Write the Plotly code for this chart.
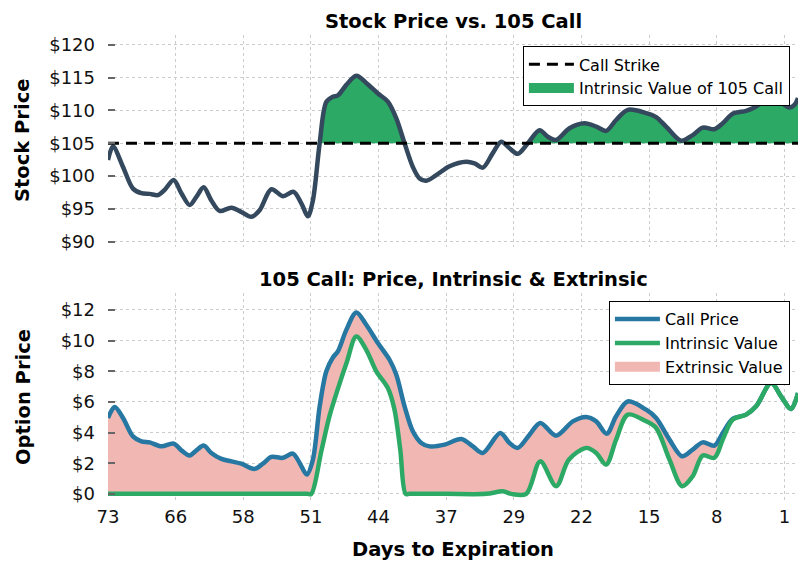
import numpy as np
import plotly.graph_objects as go

STRIKE = 105

stock_days = [73.00, 72.47, 71.40, 70.34, 69.45, 68.56, 67.68, 66.97, 66.01, 65.19,
              64.31, 63.59, 62.82, 62.00, 61.12, 59.87, 58.81, 57.74, 56.86, 55.61,
              54.38, 53.24, 52.42, 51.72, 51.19, 50.47, 49.76, 49.06, 48.53, 47.63,
              46.57, 45.51, 44.27, 43.21, 42.31, 41.43, 40.55, 39.83, 39.12, 38.06,
              36.64, 34.87, 33.98, 33.10, 32.04, 31.14, 30.26, 29.38, 28.31, 27.07,
              26.18, 25.29, 23.88, 22.28, 21.03, 19.97, 18.91, 17.67, 15.71, 14.65,
              13.59, 11.99, 10.76, 9.69, 8.45, 7.56, 6.50, 5.07, 4.19, 3.31,
              2.41, 1.35, 0.47, -0.07, -0.45]
stock_price = [102.45, 104.5, 101.4, 98.1, 97.4, 97.3, 97.1, 97.9, 99.4, 97.4,
               95.6, 96.85, 98.3, 96.3, 94.7, 95.2, 94.55, 93.8, 94.8, 98.0,
               96.95, 97.6, 95.85, 93.9, 96.3, 105.0, 111.3, 112.1, 112.3, 113.9,
               115.3, 114.2, 112.6, 111.35, 108.8, 105.0, 101.4, 99.65, 99.3, 100.15,
               101.5, 102.2, 101.95, 101.3, 103.5, 105.25, 104.25, 103.4, 105.0, 107.0,
               106.0, 105.5, 107.3, 108.05, 107.55, 106.9, 108.55, 110.1, 109.6, 109.0,
               107.55, 105.4, 106.25, 107.4, 107.15, 108.05, 109.5, 109.95, 110.45, 111.35,
               112.3, 111.2, 110.45, 110.85, 111.9]

call_days = [73.00, 72.29, 71.40, 70.34, 69.45, 68.56, 67.32, 66.01, 65.19, 64.31,
             63.59, 62.82, 62.00, 60.93, 59.87, 58.81, 57.39, 56.51, 55.61, 54.38,
             53.32, 52.60, 51.83, 51.19, 50.47, 49.76, 49.06, 48.53, 47.63, 46.57,
             45.51, 44.27, 43.03, 42.31, 41.43, 40.55, 39.65, 38.77, 37.17, 35.40,
             34.16, 33.10, 31.25, 30.26, 29.38, 28.13, 26.99, 25.29, 23.52, 22.10,
             21.03, 19.91, 18.91, 17.67, 15.71, 14.65, 13.23, 11.88, 10.76, 9.69,
             8.45, 7.56, 6.50, 5.07, 4.01, 2.41, 1.35, 0.29, -0.45]
call_price = [4.95, 5.67, 4.95, 3.75, 3.43, 3.36, 3.10, 3.28, 2.84, 2.50,
              2.84, 3.15, 2.67, 2.28, 2.12, 1.97, 1.63, 1.97, 2.41, 2.35,
              2.63, 2.02, 1.26, 2.23, 5.70, 8.0, 8.9, 9.3, 10.7, 11.83,
              11.03, 9.84, 8.75, 7.77, 5.71, 4.08, 3.32, 3.10, 3.21, 3.58,
              3.10, 2.67, 3.97, 3.32, 3.00, 3.86, 4.63, 3.80, 4.73, 5.02,
              4.73, 3.93, 5.06, 6.03, 5.49, 4.95, 3.54, 2.45, 2.89, 3.36,
              3.15, 3.97, 4.89, 5.17, 5.71, 7.25, 6.36, 5.54, 6.58]

intr_days = [73.00, 62.00, 51.80, 51.36, 50.29, 49.41, 48.53, 47.63, 46.57, 45.51,
             44.44, 43.21, 42.50, 41.89, 41.32, 40.90, 37.00, 32.74, 30.97, 30.08,
             28.48, 26.99, 25.29, 23.95, 22.10, 21.03, 19.97, 18.91, 17.67, 15.71,
             14.65, 13.23, 11.88, 10.76, 9.69, 8.45, 7.56, 6.50, 5.07, 4.01,
             2.41, 1.35, 0.29, -0.45]
intr_value = [0, 0, 0, 0, 2.8, 5.1, 6.85, 8.5, 10.27, 9.4,
              7.99, 6.9, 5.49, 2.89, 0.0, 0, 0, 0, 0.17, 0,
              0, 2.12, 0.50, 2.23, 3.0, 2.67, 1.91, 3.54, 5.17, 4.73,
              4.30, 2.23, 0.50, 1.15, 2.50, 2.35, 3.54, 4.84, 5.17, 5.71,
              7.23, 6.36, 5.54, 6.58]

tick_labels = ["73", "66", "58", "51", "44", "37", "29", "22", "15", "8", "1"]
stock_ticks = [90, 95, 100, 105, 110, 115, 120]
option_ticks = [0, 2, 4, 6, 8, 10, 12]

FONT = "DejaVu Sans"
DARK = "#34495e"
GREEN = "#2ca965"
BLUE = "#2677a2"
PINK = "#f0b7b3"

tick_pos = list(np.linspace(73, 1, len(tick_labels)))
x_range = [73, -0.45]

fig = go.Figure()

# ---- top panel ----
fig.add_trace(go.Scatter(x=x_range, y=[STRIKE, STRIKE], mode="lines",
                         line=dict(width=0), showlegend=False, hoverinfo="skip",
                         xaxis="x", yaxis="y"))
fig.add_trace(go.Scatter(x=stock_days, y=list(np.maximum(stock_price, STRIKE)), mode="lines",
                         line=dict(width=0, shape="spline", smoothing=0.9),
                         fill="tonexty", fillcolor=GREEN, showlegend=False,
                         xaxis="x", yaxis="y"))
fig.add_trace(go.Scatter(x=stock_days, y=stock_price, mode="lines",
                         line=dict(color=DARK, width=4.5, shape="spline", smoothing=0.9),
                         showlegend=False, xaxis="x", yaxis="y"))
fig.add_trace(go.Scatter(x=x_range, y=[STRIKE, STRIKE], mode="lines",
                         line=dict(color="black", width=3, dash="11px,7px"),
                         name="Call Strike", legend="legend", legendrank=1,
                         xaxis="x", yaxis="y"))
# legend swatch for the filled area
fig.add_trace(go.Scatter(x=[None], y=[None], mode="lines",
                         line=dict(color=GREEN, width=13),
                         name="Intrinsic Value of 105 Call", legend="legend", legendrank=2,
                         xaxis="x", yaxis="y"))

# ---- bottom panel ----
fig.add_trace(go.Scatter(x=intr_days, y=intr_value, mode="lines",
                         line=dict(width=0, shape="spline", smoothing=0.9),
                         showlegend=False, hoverinfo="skip", xaxis="x2", yaxis="y2"))
fig.add_trace(go.Scatter(x=call_days, y=call_price, mode="lines",
                         line=dict(width=0, shape="spline", smoothing=0.9),
                         fill="tonexty", fillcolor=PINK, showlegend=False,
                         xaxis="x2", yaxis="y2"))
fig.add_trace(go.Scatter(x=call_days, y=call_price, mode="lines",
                         line=dict(color=BLUE, width=4.5, shape="spline", smoothing=0.9),
                         name="Call Price", legend="legend2", legendrank=1,
                         xaxis="x2", yaxis="y2"))
fig.add_trace(go.Scatter(x=intr_days, y=intr_value, mode="lines",
                         line=dict(color=GREEN, width=4.5, shape="spline", smoothing=0.9),
                         name="Intrinsic Value", legend="legend2", legendrank=2,
                         xaxis="x2", yaxis="y2"))
fig.add_trace(go.Scatter(x=[None], y=[None], mode="lines",
                         line=dict(color=PINK, width=13),
                         name="Extrinsic Value", legend="legend2", legendrank=3,
                         xaxis="x2", yaxis="y2"))

grid = dict(showgrid=True, gridcolor="#cccccc", griddash="dot", gridwidth=1,
            zeroline=False, showline=False)
tickfont = dict(family=FONT, size=18, color="#111111")

fig.update_layout(
    width=804, height=571,
    margin=dict(l=100, r=14, t=27, b=79),
    paper_bgcolor="white", plot_bgcolor="white",
    font=dict(family=FONT, size=16, color="black"),
    xaxis=dict(domain=[0, 1], range=x_range, tickvals=tick_pos, ticktext=tick_labels,
               showticklabels=False, ticks="", anchor="y", matches="x2", **grid),
    yaxis=dict(domain=[0.544, 1], range=[89.2, 121.5], tickvals=stock_ticks,
               ticktext=["$" + str(v) for v in stock_ticks],
               tickfont=tickfont, ticks="inside", ticklen=7, ticklabelstandoff=12,
               tickcolor="#666666", tickwidth=1.5, anchor="x", **grid),
    xaxis2=dict(domain=[0, 1], range=x_range, tickvals=tick_pos, ticktext=tick_labels,
                tickfont=tickfont, ticks="", ticklabelstandoff=4, anchor="y2", **grid),
    yaxis2=dict(domain=[0, 0.445], range=[-0.4, 13.1], tickvals=option_ticks,
                ticktext=["$" + str(v) for v in option_ticks],
                tickfont=tickfont, ticks="inside", ticklen=7, ticklabelstandoff=12,
                tickcolor="#666666", tickwidth=1.5, anchor="x2", **grid),
    legend=dict(x=0.988, y=0.976, xanchor="right", yanchor="top", traceorder="normal",
                bgcolor="white", bordercolor="black", borderwidth=1.2, itemwidth=45,
                font=dict(family=FONT, size=16), tracegroupgap=0),
    legend2=dict(x=0.988, y=0.428, xanchor="right", yanchor="top", traceorder="normal",
                 bgcolor="white", bordercolor="black", borderwidth=1.2, itemwidth=45,
                 font=dict(family=FONT, size=16), tracegroupgap=0),
    showlegend=True,
)

bold = dict(family=FONT, size=19.5, color="black", weight="bold")
annotations = [
    ("Stock Price vs. 105 Call", 22),
    ("105 Call: Price, Intrinsic & Extrinsic", 279),
    ("Days to Expiration", 549),
]
for text, ypix in annotations:
    fig.add_annotation(text=text, x=0.5, xref="paper", yref="paper",
                       y=(500 - ypix) / 465, xanchor="center", yanchor="middle",
                       showarrow=False, font=bold)

for text, ypix in [("Stock Price", 141), ("Option Price", 397)]:
    fig.add_annotation(text=text, x=(23 - 108) / 690, xref="paper",
                       y=(500 - ypix) / 465, yref="paper", textangle=-90,
                       xanchor="center", yanchor="middle", showarrow=False, font=bold)

fig.write_html("out.html")
